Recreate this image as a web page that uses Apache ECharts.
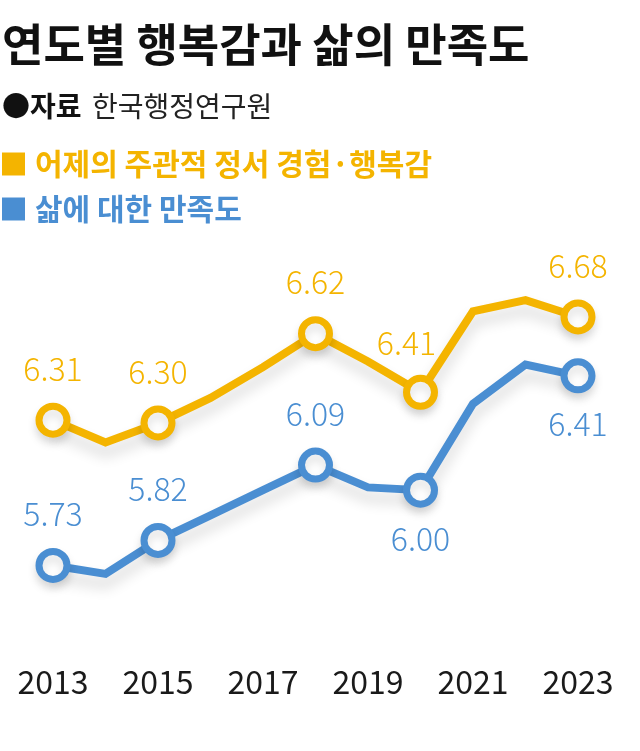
<!DOCTYPE html>
<html>
<head>
<meta charset="utf-8">
<script src="https://cdn.jsdelivr.net/npm/echarts@6/dist/echarts.min.js"></script>
<style>
html,body{margin:0;padding:0;background:#fff;}
#c{width:640px;height:751px;}
</style>
</head>
<body>
<div id="c"></div>
<script>
// ---- data ----
const years = ['2013','2014','2015','2016','2017','2018','2019','2020','2021','2022','2023'];
const happiness = [6.31, 6.23, 6.30, 6.39, 6.50, 6.62, 6.52, 6.41, 6.70, 6.74, 6.68];
const satisfaction = [5.73, 5.70, 5.82, 5.91, 6.00, 6.09, 6.01, 6.00, 6.31, 6.45, 6.41];
const labeledIdx = [0, 2, 5, 7, 10];
const seriesNames = ['어제의 주관적 정서 경험·행복감', '삶에 대한 만족도'];
const titleText = '연도별 행복감과 삶의 만족도';
const sourceLabel = '●자료';
const sourceText = '한국행정연구원';

// ---- styling ----
const YELLOW = '#F4B400';
const BLUE = '#4A8ED2';
const FONT = '"Noto Sans CJK KR", "Noto Sans", sans-serif';
const blueBelow = [7, 10];
const yellowOffset = {7: [-14, 2]};

function buildData(vals, isBlue) {
  return vals.map((v, i) => {
    const shown = labeledIdx.indexOf(i) >= 0;
    const item = { value: v };
    if (!shown) {
      item.symbol = 'none';
      item.label = { show: false };
    } else {
      const below = isBlue && blueBelow.indexOf(i) >= 0;
      item.label = {
        show: true,
        position: below ? 'bottom' : 'top',
        distance: below ? 15 : 18,
        offset: (!isBlue && yellowOffset[i]) ? yellowOffset[i] : [0, 0]
      };
    }
    return item;
  });
}

const chart = echarts.init(document.getElementById('c'), null, {renderer: 'canvas'});

function seriesDef(name, vals, color, axisIdx, isBlue) {
  return {
    name: name,
    type: 'line',
    yAxisIndex: axisIdx,
    data: buildData(vals, isBlue),
    symbol: 'circle',
    symbolSize: 28,
    showSymbol: true,
    lineStyle: {
      color: color, width: 8, join: 'miter',
      shadowColor: 'rgba(0,0,0,0.16)', shadowBlur: 14, shadowOffsetY: 10
    },
    itemStyle: {
      color: '#fff', borderColor: color, borderWidth: 7,
      shadowColor: 'rgba(0,0,0,0.12)', shadowBlur: 10, shadowOffsetY: 6
    },
    label: {
      color: color, fontSize: 32, fontWeight: 300, fontFamily: FONT,
      formatter: p => p.value.toFixed(2)
    },
    emphasis: { disabled: true },
    z: 3
  };
}

chart.setOption({
  animation: false,
  backgroundColor: '#ffffff',
  color: [YELLOW, BLUE],
  graphic: [
    { type: 'text', left: 2, top: 45 - 23, style: { text: titleText, font: 'bold 45px ' + FONT, fill: '#111' } },
    { type: 'text', left: 2, top: 106 - 14, style: { text: sourceLabel, font: 'bold 28px ' + FONT, fill: '#111' } },
    { type: 'text', left: 92, top: 106 - 14, style: { text: sourceText, font: 'normal 28px ' + FONT, fill: '#222' } }
  ],
  legend: {
    orient: 'vertical',
    left: 2, top: 149,
    padding: 0,
    icon: 'rect',
    itemWidth: 23, itemHeight: 23,
    itemGap: 15,
    selectedMode: false,
    data: [
      { name: seriesNames[0], itemStyle: { color: YELLOW, borderWidth: 0 }, textStyle: { color: YELLOW } },
      { name: seriesNames[1], itemStyle: { color: BLUE, borderWidth: 0 }, textStyle: { color: BLUE } }
    ],
    textStyle: { fontSize: 30, fontWeight: 'bold', fontFamily: FONT, lineHeight: 30, padding: [0, 0, 0, 5] }
  },
  grid: { left: 53, right: 62, top: 250, height: 400, containLabel: false },
  xAxis: {
    type: 'category',
    data: years,
    boundaryGap: false,
    axisLine: { show: false },
    axisTick: { show: false },
    splitLine: { show: false },
    axisLabel: { interval: 1, color: '#1a1a1a', fontSize: 32, fontFamily: FONT, margin: 16 }
  },
  yAxis: [
    { type: 'value', min: 5.486, max: 6.920, show: false, splitLine: { show: false } },
    { type: 'value', min: 5.427, max: 6.861, show: false, splitLine: { show: false } }
  ],
  series: [
    seriesDef(seriesNames[0], happiness, YELLOW, 0, false),
    seriesDef(seriesNames[1], satisfaction, BLUE, 1, true)
  ]
});
</script>
</body>
</html>
